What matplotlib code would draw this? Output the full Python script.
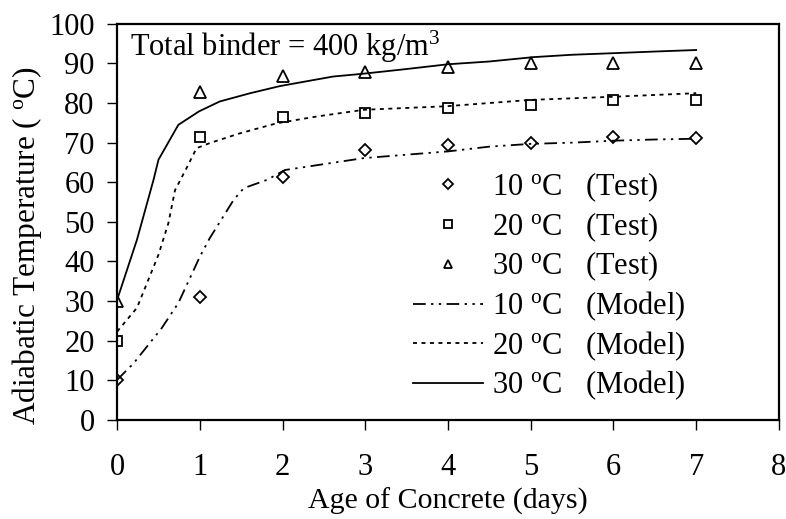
import matplotlib

matplotlib.use("Agg")
import matplotlib.pyplot as plt

plt.rcParams["font.family"] = "Liberation Serif"
plt.rcParams["mathtext.fontset"] = "custom"
plt.rcParams["mathtext.rm"] = "Liberation Serif"
plt.rcParams["mathtext.it"] = "Liberation Serif:italic"

# test points (daily)
test_days = [0, 1, 2, 3, 4, 5, 6, 7]
test_10 = [10, 31.1, 61.4, 68.2, 69.4, 70, 71.4, 71.1]
test_20 = [20, 71.5, 76.6, 77.4, 78.8, 79.5, 80.8, 80.8]
test_30 = [30, 82.9, 86.9, 87.9, 89.2, 90.1, 90.1, 90.1]

# model curves
model_10_days = [0, 0.2, 0.54, 0.74, 1.0, 1.12, 1.41, 1.53, 1.81, 2.03, 2.98, 4.0, 4.5, 5.0, 5.5, 6.0, 6.5, 7.0]
model_10 = [10.1, 14.3, 23.2, 29.5, 41.2, 45.9, 55.6, 58.5, 60.6, 63.1, 66.1, 67.8, 69.0, 69.7, 70.0, 70.5, 70.8, 71.0]

model_20_days = [0, 0.24, 0.5, 0.62, 0.7, 0.84, 0.96, 1.12, 1.49, 1.93, 2.41, 2.98, 3.98, 5.0, 6.0, 7.0]
model_20 = [22.3, 28.3, 41.7, 49.7, 58.0, 63.6, 68.6, 69.9, 72.4, 74.9, 76.6, 78.3, 79.2, 80.8, 81.6, 82.5]

model_30_days = [0, 0.24, 0.44, 0.5, 0.74, 0.99, 1.24, 1.61, 1.97, 2.61, 2.97, 3.5, 4.0, 4.5, 5.03, 5.5, 6.0, 6.48, 7.0]
model_30 = [30.3, 45.5, 60.6, 65.7, 74.5, 77.9, 80.4, 82.5, 84.3, 86.7, 87.4, 88.6, 89.8, 90.5, 91.6, 92.2, 92.6, 93.0, 93.4]

deg = "$^{\\rm o}$C"

fig = plt.figure(figsize=(7.86, 5.19), dpi=100)
ax = fig.add_axes([0.149, 0.191, 0.842, 0.763])

fs = 22

ax.plot(test_days, test_10, "D", ms=6.5, mfc="none", mec="black", mew=1.3,
        label="10 " + deg + "   (Test)")
ax.plot(test_days, test_20, "s", ms=7.5, mfc="none", mec="black", mew=1.3,
        label="20 " + deg + "   (Test)")
ax.plot(test_days, test_30, "^", ms=8.5, mfc="none", mec="black", mew=1.3,
        label="30 " + deg + "   (Test)")
ax.plot(model_10_days, model_10, color="black", lw=1.3, dashes=(7, 3, 1.3, 3, 1.3, 3),
        label="10 " + deg + "   (Model)")
ax.plot(model_20_days, model_20, color="black", lw=1.3, dashes=(2.2, 2.5),
        label="20 " + deg + "   (Model)")
ax.plot(model_30_days, model_30, color="black", lw=1.3,
        label="30 " + deg + "   (Model)")

ax.set_xlim(0, 8)
ax.set_ylim(0, 100)
ax.set_xticks(range(0, 9))
ax.set_yticks(range(0, 101, 10))
ax.tick_params(direction="out", length=7.2, width=1, labelsize=fs)
ax.tick_params(axis="x", pad=17)
ax.tick_params(axis="y", pad=9)
for s in ax.spines.values():
    s.set_linewidth(1.6)

ax.set_xlabel("Age of Concrete (days)", fontsize=21.5, labelpad=4)
ax.set_ylabel("Adiabatic Temperature ( " + deg + ")", fontsize=22.5)
ax.yaxis.set_label_coords(-0.11, 0.44)

ax.text(0.02, 0.942, "Total binder = 400 kg/m$^3$", transform=ax.transAxes,
        fontsize=fs, va="center", ha="left")

ax.legend(loc="upper left", bbox_to_anchor=(0.447, 0.630), frameon=False,
          fontsize=fs, numpoints=1, markerscale=0.75, handlelength=2.3,
          handletextpad=0.3, labelspacing=0.2, borderpad=0, borderaxespad=0)

plt.savefig("out.png", dpi=100)
